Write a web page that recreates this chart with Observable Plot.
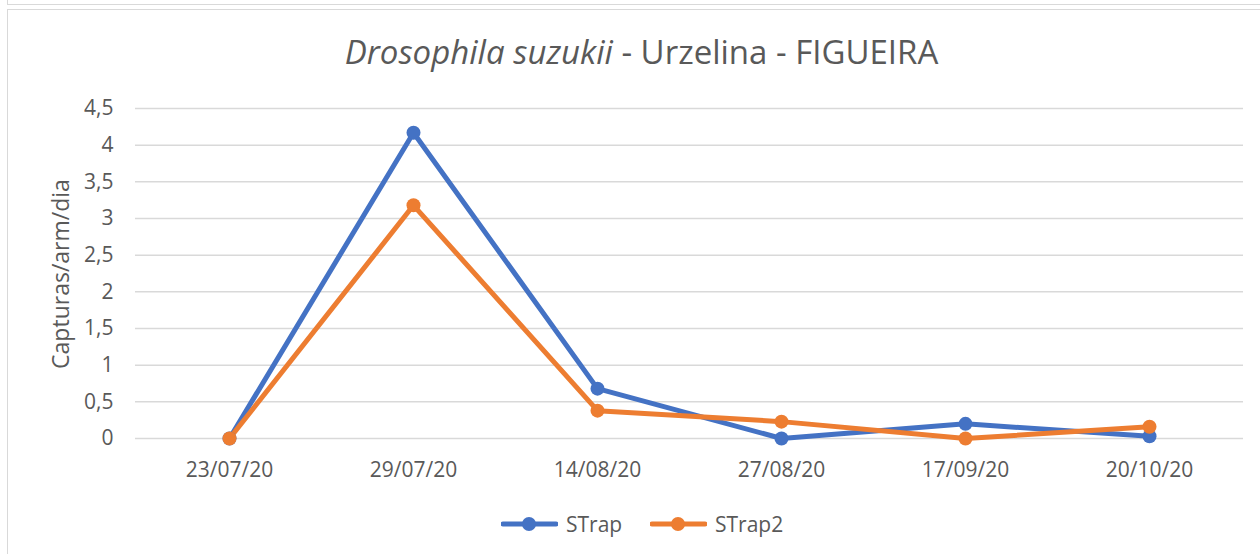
<!DOCTYPE html>
<html>
<head>
<meta charset="utf-8">
<script src="https://cdn.jsdelivr.net/npm/d3@7"></script>
<script src="https://cdn.jsdelivr.net/npm/@observablehq/plot@0.6"></script>
<style>
  html, body { margin: 0; padding: 0; background: #fff; }
  body { width: 1260px; height: 554px; overflow: hidden; position: relative; font-family: "Open Sans", sans-serif; color: #595959; }
  .box1 { position: absolute; left: 7px; top: -10px; width: 1300px; height: 15px; border: 1.5px solid #d9d9d9; box-sizing: border-box; }
  .box2 { position: absolute; left: 7px; top: 9px; width: 1300px; height: 600px; border: 1.5px solid #d9d9d9; box-sizing: border-box; }
  #title { position: absolute; left: 0; top: 0; width: 1260px; height: 90px; }
  #title div { position: absolute; left: 0; width: 1283px; top: 32px; text-align: center; font-size: 33px; line-height: 40px; }
  #chart { position: absolute; left: 0; top: 90px; }
  #ylabel { position: absolute; left: 60px; top: 274px; transform: translate(-50%, -50%) rotate(-90deg); font-size: 23px; white-space: nowrap; }
  #legend { position: absolute; left: 0; top: 500px; width: 1260px; height: 54px; }
  .item { position: absolute; top: 9px; height: 30px; display: flex; align-items: center; font-size: 21px; }
  .item svg { margin-right: 8px; }
</style>
</head>
<body>
<div class="box1"></div>
<div class="box2"></div>
<div id="title"><div><i>Drosophila suzukii</i> - Urzelina - FIGUEIRA</div></div>
<div id="chart"></div>
<div id="ylabel">Capturas/arm/dia</div>
<div id="legend"></div>
<script>
const dates = ["23/07/20", "29/07/20", "14/08/20", "27/08/20", "17/09/20", "20/10/20"];
const strap = [0, 4.17, 0.68, 0, 0.2, 0.03];
const strap2 = [0, 3.18, 0.38, 0.23, 0, 0.16];
const seriesNames = ["STrap", "STrap2"];
const seriesColors = ["#4472C4", "#ED7D31"];
const yTicks = [0, 0.5, 1, 1.5, 2, 2.5, 3, 3.5, 4, 4.5];

const data = [
  ...dates.map((d, i) => ({date: d, value: strap[i], series: seriesNames[0]})),
  ...dates.map((d, i) => ({date: d, value: strap2[i], series: seriesNames[1]}))
];

const fmt = v => String(v).replace(".", ",");

const chart = Plot.plot({
  width: 1260,
  height: 410,
  marginTop: 18,
  marginBottom: 62,
  marginLeft: 135,
  marginRight: 17,
  style: {fontFamily: "'Open Sans', sans-serif", fontSize: "21px", color: "#595959", background: "transparent"},
  x: {type: "point", domain: dates, padding: 0.5, label: null, tickSize: 0, tickPadding: 24},
  y: {domain: [0, 4.5], ticks: yTicks, tickFormat: fmt, label: null, tickSize: 0, tickPadding: 22},
  color: {domain: seriesNames, range: seriesColors},
  marks: [
    Plot.gridY(yTicks, {stroke: "#d9d9d9", strokeOpacity: 1, strokeWidth: 1.5}),
    Plot.line(data, {x: "date", y: "value", z: "series", stroke: "series", strokeWidth: 5, strokeLinejoin: "round", strokeLinecap: "round"}),
    Plot.dot(data, {x: "date", y: "value", fill: "series", r: 7})
  ]
});
document.getElementById("chart").appendChild(chart);

const legend = document.getElementById("legend");
const lefts = [501, 650];
seriesNames.forEach((name, i) => {
  const item = document.createElement("div");
  item.className = "item";
  item.style.left = lefts[i] + "px";
  item.innerHTML = `<svg width="57" height="20"><line x1="2" x2="55" y1="10" y2="10" stroke="${seriesColors[i]}" stroke-width="5" stroke-linecap="round"/><circle cx="28" cy="10" r="7" fill="${seriesColors[i]}"/></svg><span>${name}</span>`;
  legend.appendChild(item);
});
</script>
</body>
</html>
